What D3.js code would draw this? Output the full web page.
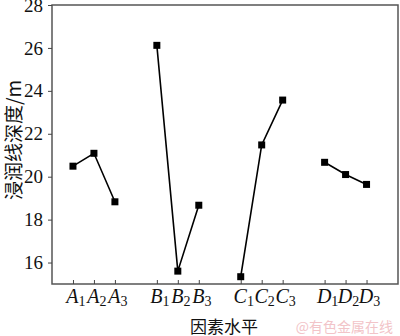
<!DOCTYPE html>
<html>
<head>
<meta charset="utf-8">
<script src="https://cdn.jsdelivr.net/npm/d3@7"></script>
<style>
  body { margin: 0; background: #fff; }
  text { font-family: "Liberation Serif", "Times New Roman", serif; }
</style>
</head>
<body>
<div id="container"></div>
<script>
// factor groups and levels
var factors = ["A", "B", "C", "D"];
var levels = ["1", "2", "3"];
// mean seepage line depth for each factor level (m)
var depthA = [20.49, 21.09, 18.83];
var depthB = [26.12, 15.60, 18.67];
var depthC = [15.34, 21.48, 23.57];
var depthD = [20.67, 20.10, 19.64];
var yTicks = [16, 18, 20, 22, 24, 26, 28];

var createChart = function () {
    var W = 400, H = 336;
    var left = 52, right = 398, top = 5, bottom = 284;

    var svg = d3.select("#container")
        .append("svg")
        .attr("width", W)
        .attr("height", H);

    var x = d3.scaleLinear().domain([0, 16.5]).range([left, right]);
    var y = d3.scaleLinear().domain([15, 28]).range([bottom, top]);

    var series = [depthA, depthB, depthC, depthD];
    var pos = function (g, i) { return g * 4 + i + 1; };

    // frame
    svg.append("rect")
        .attr("x", left)
        .attr("y", top)
        .attr("width", right - left)
        .attr("height", bottom - top)
        .style("fill", "none")
        .attr("stroke", "#555")
        .attr("stroke-width", 1.5);

    // y axis
    var yAxis = d3.axisLeft(y).tickValues(yTicks).tickSize(4).tickPadding(5);
    var gy = svg.append("g")
        .attr("transform", "translate(" + left + ",0)")
        .call(yAxis);
    gy.select(".domain").remove();
    gy.selectAll("line").attr("stroke", "#444");
    gy.selectAll("text")
        .style("font-size", "19px")
        .attr("fill", "#111");

    // x ticks (inward)
    var xPositions = [];
    factors.forEach(function (f, g) {
        levels.forEach(function (l, i) {
            xPositions.push({ f: f, l: l, p: pos(g, i) });
        });
    });
    var xAxis = d3.axisBottom(x)
        .tickValues(xPositions.map(function (d) { return d.p; }))
        .tickSize(-4)
        .tickFormat("");
    var gx = svg.append("g")
        .attr("transform", "translate(0," + bottom + ")")
        .call(xAxis);
    gx.select(".domain").remove();
    gx.selectAll("line").attr("stroke", "#444");

    // x tick labels with subscripts
    var lab = svg.append("g").selectAll("text")
        .data(xPositions)
        .enter()
        .append("text")
        .attr("x", function (d) { return x(d.p) + 3; })
        .attr("y", 303)
        .attr("text-anchor", "middle")
        .attr("fill", "#111")
        .style("font-size", "20px");
    lab.append("tspan")
        .style("font-style", "italic")
        .text(function (d) { return d.f; });
    lab.append("tspan")
        .attr("dy", 3)
        .style("font-size", "14px")
        .text(function (d) { return d.l; });

    // lines + markers
    var line = d3.line()
        .x(function (d) { return x(d.p); })
        .y(function (d) { return y(d.v); });

    series.forEach(function (vals, g) {
        var pts = vals.map(function (v, i) { return { p: pos(g, i), v: v }; });
        svg.append("path")
            .datum(pts)
            .attr("d", line)
            .style("fill", "none")
            .attr("stroke", "#000")
            .attr("stroke-width", 1.6);
        svg.append("g").selectAll("rect")
            .data(pts)
            .enter()
            .append("rect")
            .attr("x", function (d) { return x(d.p) - 3.5; })
            .attr("y", function (d) { return y(d.v) - 3.5; })
            .attr("width", 7)
            .attr("height", 7)
            .style("fill", "#000");
    });

    // axis titles
    svg.append("text")
        .attr("transform", "translate(21," + 140 + ") rotate(-90)")
        .attr("text-anchor", "middle")
        .attr("fill", "#111")
        .style("font-family", "'Noto Sans CJK SC', 'Liberation Serif', serif")
        .style("font-size", "19px")
        .text("浸润线深度/m");

    svg.append("text")
        .attr("x", 224)
        .attr("y", 333)
        .attr("text-anchor", "middle")
        .attr("fill", "#111")
        .style("font-family", "'Noto Sans CJK SC', serif")
        .style("font-size", "17px")
        .text("因素水平");

    // watermark
    svg.append("text")
        .attr("x", 393)
        .attr("y", 332)
        .attr("text-anchor", "end")
        .attr("fill", "#f2c4c8")
        .style("font-family", "'Noto Sans CJK SC', sans-serif")
        .style("font-size", "14px")
        .text("@有色金属在线");
};

window.onload = createChart;
</script>
</body>
</html>
